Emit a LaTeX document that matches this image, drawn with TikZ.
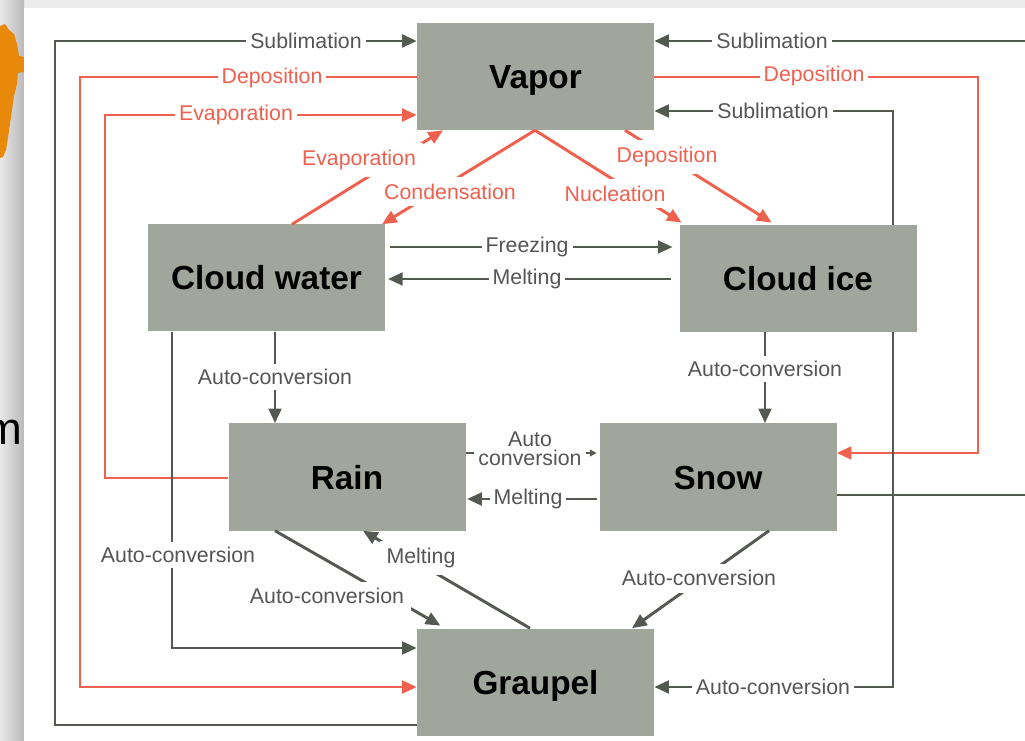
\documentclass[tikz,border=0pt]{standalone}
\usepackage{fontspec}
\setmainfont{Liberation Sans}
\usetikzlibrary{arrows.meta}
\definecolor{boxgray}{HTML}{A0A69B}
\definecolor{dkline}{HTML}{545951}
\definecolor{dktext}{HTML}{555555}
\definecolor{redline}{HTML}{F0604E}
\definecolor{orng}{HTML}{E8890C}
\tikzset{
  box/.style={fill=boxgray, minimum width=177.75pt, minimum height=80.25pt, inner sep=0pt,
    font=\bfseries\fontsize{25}{28}\selectfont, text=black, text height=18pt, text depth=0pt},
  dk/.style={draw=dkline, line width=2.2pt},
  rd/.style={draw=redline, line width=2.2pt},
  dka/.style={dk, -{Triangle[length=11pt,width=9.5pt]}},
  rda/.style={rd, -{Triangle[length=11pt,width=9.5pt]}},
  lbl/.style={fill=white, inner xsep=3pt, inner ysep=1pt, font=\fontsize{16}{18}\selectfont, text=dktext},
  rlbl/.style={lbl, text=redline},
}
\begin{document}
\begin{tikzpicture}[x=0.75pt,y=-0.75pt]
\useasboundingbox (0,0) rectangle (1025,741);
% page background
\fill[white] (0,0) rectangle (1025,741);
\fill[gray!15] (24,0) rectangle (1025,8);
\shade[left color=gray!18, right color=gray!55] (0,0) rectangle (24,741);
\fill[orng] (0,26) -- (5,24) -- (9,30) -- (14,34) -- (17,44) -- (19,56) -- (24,57) -- (24,72) -- (18,73)
  -- (17,84) -- (14,96) -- (12,110) -- (10,124) -- (8,138) -- (6,150) -- (3,157) -- (0,158) -- cycle;
\node[anchor=base east, inner sep=0pt, font=\fontsize{34}{36}\selectfont] (mletter) at (23,445) {m};
\fill[white] (24,8) rectangle (1025,741);

% boxes
\node[box] (vapor)   at (535.5,76.5) {Vapor};
\node[box] (cw)      at (266.5,278)  {Cloud water};
\node[box] (ice)     at (798,278.5)  {Cloud ice};
\node[box] (rain)    at (347,477)    {Rain};
\node[box] (snow)    at (718,477)    {Snow};
\node[box] (graupel) at (535.5,682)  {Graupel};

\coordinate (eR1) at (1025,41);
\coordinate (eR2) at (1025,495);

% outer loops, left
\draw[dka] (graupel.west |- 0,725) -- (55,725) -- (55,41) -- (vapor.west |- 0,41);
\draw[rda] (vapor.west |- 0,77) -- (80,77) -- (80,687) -- (graupel.west |- 0,687);
\draw[rda] (rain.west |- 0,478) -- (105,478) -- (105,115) -- (vapor.west |- 0,115);
\draw[dka] (cw.south -| 172,0) -- (172,648) -- (graupel.west |- 0,648);

% outer loops, right
\draw[dka] (eR1) -- (vapor.east |- 0,41);
\draw[dk] (snow.east |- 0,495) -- (eR2);
\draw[rda] (vapor.east |- 0,77) -- (978,77) -- (978,453) -- (snow.east |- 0,453);
\draw[dka] (ice.north -| 893,0) -- (893,111) -- (vapor.east |- 0,111);
\draw[dka] (ice.south -| 893,0) -- (893,687) -- (graupel.east |- 0,687);

% vertical auto-conversions
\draw[dka] (cw.south -| 275,0) -- (rain.north -| 275,0);
\draw[dka] (ice.south -| 765,0) -- (snow.north -| 765,0);

% horizontal middle
\draw[dka, shorten <=3.75pt, shorten >=5pt] (cw.east |- 0,247) -- (ice.west |- 0,247);
\draw[dka, shorten <=6pt, shorten >=2pt] (ice.west |- 0,279) -- (cw.east |- 0,279);
\draw[dk, -{Triangle[length=5pt,width=5pt]}, shorten >=2pt] (rain.east |- 0,453) -- (snow.west |- 0,453);
\draw[dka, shorten <=2pt, shorten >=1pt] (snow.west |- 0,499) -- (rain.east |- 0,499);

% diagonals near vapor
\draw[rda] (cw.north -| 292,0) -- (vapor.south -| 443,0);
\draw[rda] (vapor.south -| 535,0) -- (cw.north -| 382,0);
\draw[rda, shorten >=3pt] (vapor.south -| 535,0) -- (ice.north -| 685,0);
\draw[rda, shorten >=3pt] (vapor.south -| 625,0) -- (ice.north -| 775,0);

% diagonals near graupel
\draw[dka, shorten >=4pt] (rain.south -| 275,0) -- (graupel.north -| 445,0);
\draw[dka] (graupel.north -| 530,0) -- (rain.south -| 363,0);
\draw[dka] (snow.south -| 769,0) -- (graupel.north -| 632,0);

% labels
\node[lbl]  (l1)  at (306,41)  {Sublimation};
\node[rlbl] (l2)  at (272,78)  {Deposition};
\node[rlbl] (l3)  at (236,115) {Evaporation};
\node[lbl]  (l4)  at (772,41)  {Sublimation};
\node[rlbl] (l5)  at (814,76)  {Deposition};
\node[lbl]  (l6)  at (773,111) {Sublimation};
\node[lbl]  (l7)  at (773,687) {Auto-conversion};
\node[lbl, inner ysep=4pt]  (l8)  at (178,555) {Auto-conversion};
\node[lbl, inner ysep=4pt]  (l9)  at (275,377) {Auto-conversion};
\node[lbl, inner ysep=4pt]  (l10) at (765,369) {Auto-conversion};
\node[lbl]  (l11) at (527,247) {Freezing};
\node[lbl]  (l12) at (527,279) {Melting};
\node[lbl, align=center, font=\fontsize{16}{14}\selectfont] (l13) at (530,449) {Auto\\conversion};
\node[lbl]  (l14) at (528,499) {Melting};
\node[rlbl, inner sep=5pt] (l15) at (359,160) {Evaporation};
\node[rlbl, inner sep=5pt] (l16) at (450,192) {Condensation};
\node[rlbl, inner sep=5pt] (l17) at (615,194) {Nucleation};
\node[rlbl, inner sep=5pt] (l18) at (667,157) {Deposition};
\node[lbl, inner sep=5pt]  (l19) at (327,596) {Auto-conversion};
\node[lbl, inner sep=5pt]  (l20) at (421,558) {Melting};
\node[lbl, inner sep=5pt]  (l21) at (699,578) {Auto-conversion};
\end{tikzpicture}
\end{document}
